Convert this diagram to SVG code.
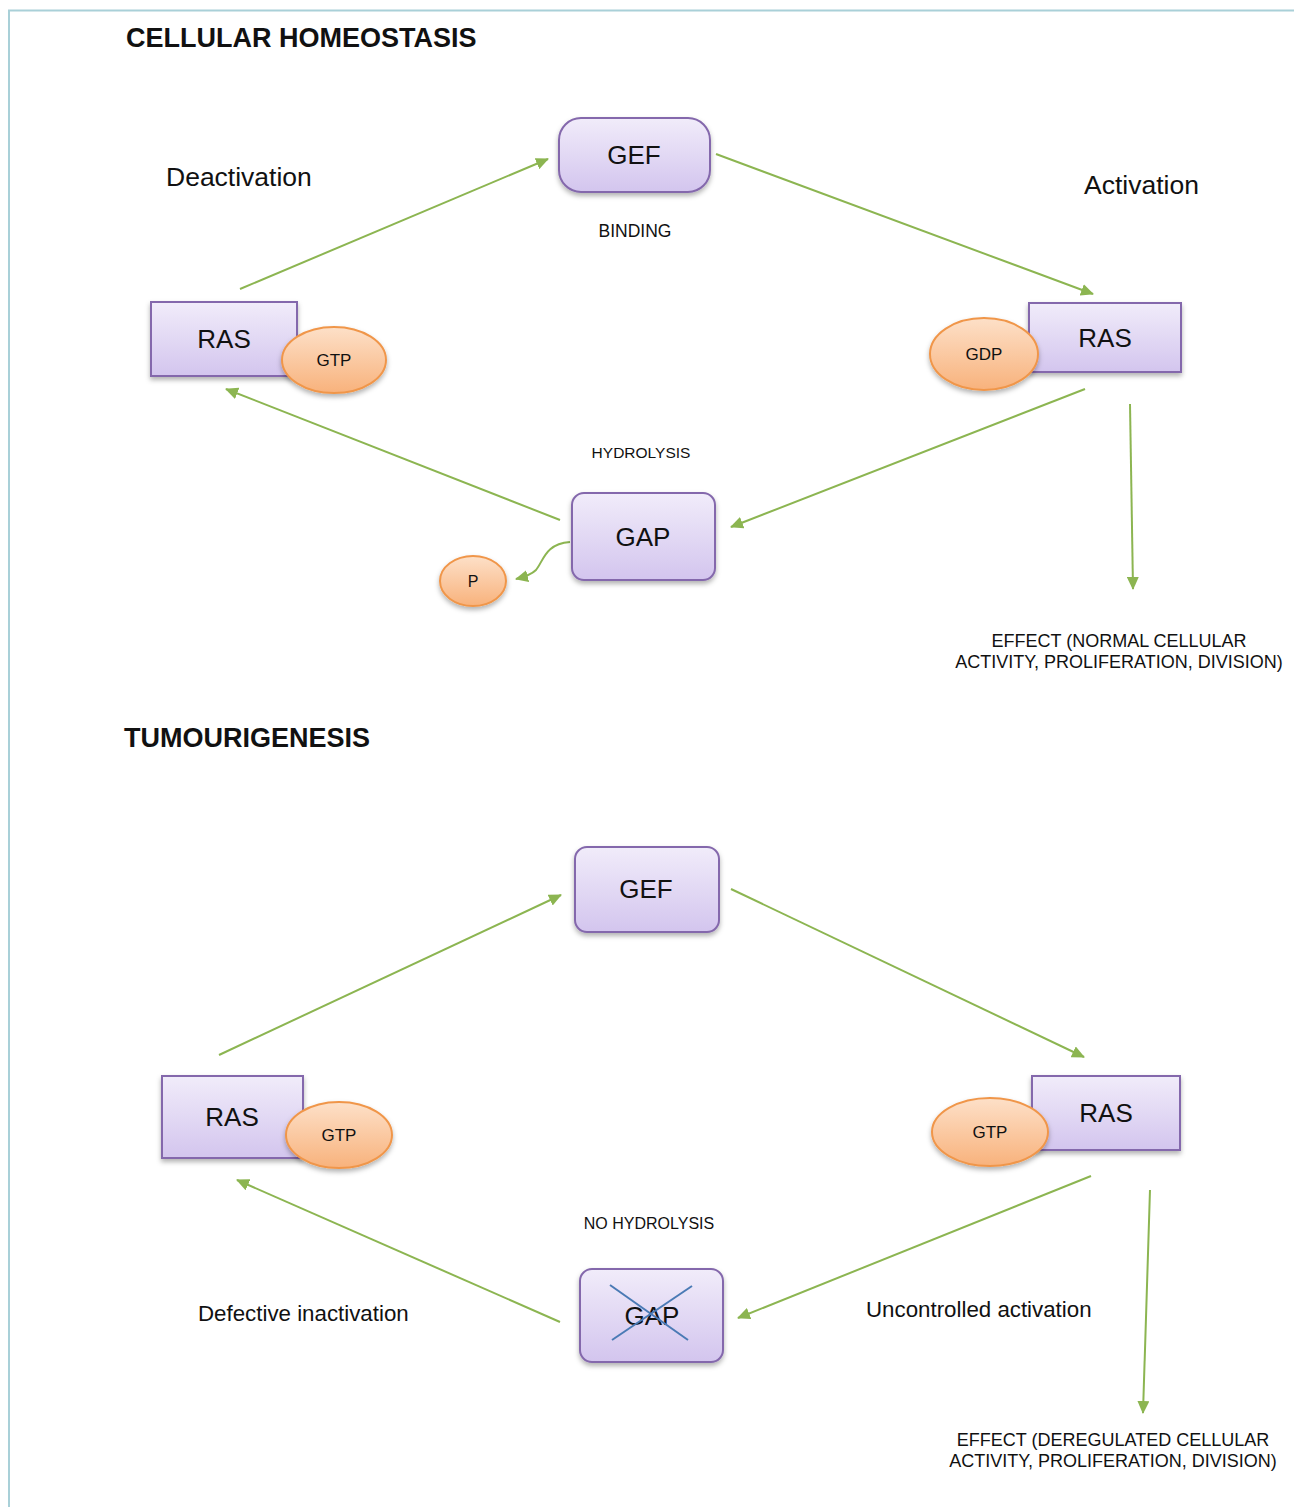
<svg xmlns="http://www.w3.org/2000/svg" width="1294" height="1507" viewBox="0 0 1294 1507">
<defs>
<linearGradient id="purp" x1="0" y1="0" x2="0" y2="1">
<stop offset="0" stop-color="#f1ecfa"/>
<stop offset="1" stop-color="#d3c5ee"/>
</linearGradient>
<linearGradient id="orng" x1="0" y1="0" x2="0" y2="1">
<stop offset="0" stop-color="#fde0c8"/>
<stop offset="1" stop-color="#f8b27c"/>
</linearGradient>
<filter id="sh" x="-20%" y="-20%" width="140%" height="150%">
<feDropShadow dx="0" dy="3" stdDeviation="2.5" flood-color="#000" flood-opacity="0.3"/>
</filter>
<marker id="ah" markerWidth="14" markerHeight="12" refX="12" refY="6" orient="auto" markerUnits="userSpaceOnUse">
<path d="M0,0 L13,6 L0,12 Z" fill="#8cb551"/>
</marker>
<style>
.box{fill:url(#purp);stroke:#8468ac;stroke-width:2;filter:url(#sh)}
.ell{fill:url(#orng);stroke:#f0964a;stroke-width:2;filter:url(#sh)}
.con{stroke:#8cb551;stroke-width:2;fill:none;marker-end:url(#ah)}
text{font-family:"Liberation Sans",Arial,sans-serif;fill:#111}
.big{font-size:26px;text-anchor:middle}
.sm{font-size:17px;text-anchor:middle}
.lbl{font-size:16px;text-anchor:middle}
.eff{font-size:18px;text-anchor:middle}
.title{font-size:27px;font-weight:bold}
.side{font-size:26.5px}
.side2{font-size:22.3px}
</style>
</defs>
<rect width="1294" height="1507" fill="#fff"/>
<path d="M9,1507 L9,10.5 L1294,10.5" fill="none" stroke="#a9d0d8" stroke-width="2"/>

<text class="title" x="126" y="47">CELLULAR HOMEOSTASIS</text>
<text class="side" x="166" y="186">Deactivation</text>
<text class="side" x="1084" y="194">Activation</text>
<text class="lbl" x="635" y="237" style="font-size:17.5px">BINDING</text>
<text class="lbl" x="641" y="458" style="font-size:15.5px">HYDROLYSIS</text>
<text class="eff" x="1119" y="647">EFFECT (NORMAL CELLULAR</text>
<text class="eff" x="1119" y="668">ACTIVITY, PROLIFERATION, DIVISION)</text>

<text class="title" x="124" y="747">TUMOURIGENESIS</text>
<text class="lbl" x="649" y="1229">NO HYDROLYSIS</text>
<text class="side2" x="198" y="1321">Defective inactivation</text>
<text class="side2" x="866" y="1317">Uncontrolled activation</text>
<text class="eff" x="1113" y="1446">EFFECT (DEREGULATED CELLULAR</text>
<text class="eff" x="1113" y="1467">ACTIVITY, PROLIFERATION, DIVISION)</text>

<g id="connectors">
<line class="con" x1="240" y1="289" x2="548" y2="159"/>
<line class="con" x1="716" y1="154" x2="1093" y2="294"/>
<line class="con" x1="1085" y1="389" x2="731" y2="527"/>
<line class="con" x1="560" y1="520" x2="226" y2="389"/>
<line class="con" x1="1130" y1="404" x2="1133" y2="589"/>
<path class="con" d="M570,542 C545,544 544,560 536,570 C531,575 524,577 516,579"/>
<line class="con" x1="219" y1="1055" x2="561" y2="895"/>
<line class="con" x1="731" y1="889" x2="1084" y2="1057"/>
<line class="con" x1="1091" y1="1176" x2="738" y2="1318"/>
<line class="con" x1="560" y1="1322" x2="237" y2="1180"/>
<line class="con" x1="1150" y1="1190" x2="1143" y2="1413"/>
</g>

<g id="gef1"><rect class="box" x="559" y="118" width="151" height="74" rx="22"/><text class="big" x="634" y="164">GEF</text></g>
<g id="ras1"><rect class="box" x="151" y="302" width="146" height="74"/><text class="big" x="224" y="348">RAS</text></g>
<g id="gtp1"><ellipse class="ell" cx="334" cy="360" rx="52" ry="33"/><text class="sm" x="334" y="366">GTP</text></g>
<g id="ras2"><rect class="box" x="1029" y="303" width="152" height="69"/><text class="big" x="1105" y="347">RAS</text></g>
<g id="gdp1"><ellipse class="ell" cx="984" cy="354" rx="54" ry="36"/><text class="sm" x="984" y="360">GDP</text></g>
<g id="gap1"><rect class="box" x="572" y="493" width="143" height="87" rx="12"/><text class="big" x="643" y="546">GAP</text></g>
<g id="p1"><ellipse class="ell" cx="473" cy="581" rx="33" ry="25"/><text class="lbl" x="473" y="587">P</text></g>

<g id="gef2"><rect class="box" x="575" y="847" width="144" height="85" rx="12"/><text class="big" x="646" y="898">GEF</text></g>
<g id="ras3"><rect class="box" x="162" y="1076" width="141" height="82"/><text class="big" x="232" y="1126">RAS</text></g>
<g id="gtp2"><ellipse class="ell" cx="339" cy="1135" rx="53" ry="33"/><text class="sm" x="339" y="1141">GTP</text></g>
<g id="ras4"><rect class="box" x="1032" y="1076" width="148" height="74"/><text class="big" x="1106" y="1122">RAS</text></g>
<g id="gtp3"><ellipse class="ell" cx="990" cy="1132" rx="58" ry="34"/><text class="sm" x="990" y="1138">GTP</text></g>
<g id="gap2"><rect class="box" x="580" y="1269" width="143" height="93" rx="12"/><text class="big" x="652" y="1325">GAP</text>
<line x1="610" y1="1285" x2="688" y2="1340" stroke="#4a7ab5" stroke-width="2"/>
<line x1="612" y1="1340" x2="692" y2="1286" stroke="#4a7ab5" stroke-width="2"/></g>
</svg>
